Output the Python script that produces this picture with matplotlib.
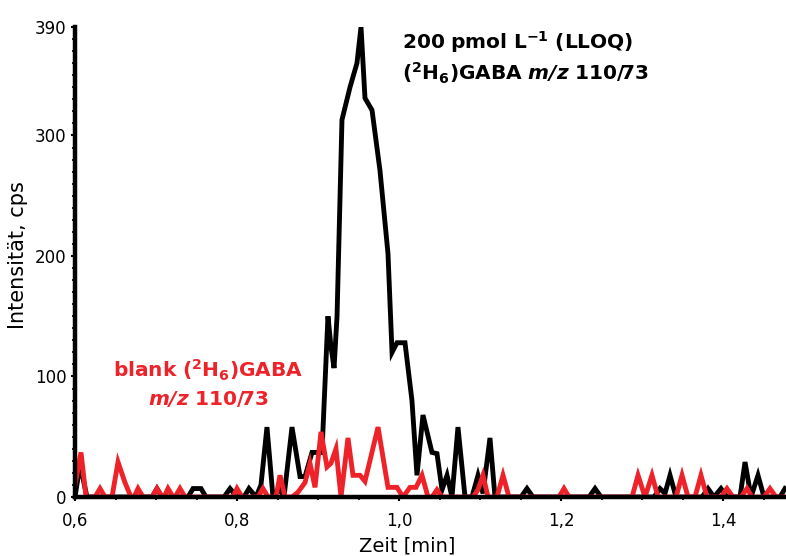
import matplotlib
matplotlib.use("Agg")
import matplotlib.pyplot as plt
from matplotlib.ticker import MultipleLocator, FixedLocator, FuncFormatter

# Chromatogram of (2H6)GABA, m/z 110/73 — retention time [min] vs. intensity [cps]
lloq_time = [0.6000, 0.6062, 0.6148, 0.6951, 0.7012, 0.7074, 0.7395, 0.7457, 0.7556, 0.7617,
             0.7840, 0.7914, 0.8000, 0.8086, 0.8148, 0.8235, 0.8296, 0.8370, 0.8444, 0.8519,
             0.8580, 0.8679, 0.8778, 0.8840, 0.8926, 0.9049, 0.9123, 0.9160, 0.9198, 0.9235,
             0.9296, 0.9395, 0.9481, 0.9531, 0.9580, 0.9667, 0.9765, 0.9864, 0.9914, 0.9975,
             1.0074, 1.0160, 1.0222, 1.0296, 1.0407, 1.0469, 1.0531, 1.0593, 1.0654, 1.0728,
             1.0815, 1.0901, 1.0975, 1.1037, 1.1123, 1.1185, 1.1506, 1.1580, 1.1654, 1.2346,
             1.2420, 1.2494, 1.3148, 1.3222, 1.3284, 1.3346, 1.3420, 1.3741, 1.3815, 1.3889,
             1.3975, 1.4049, 1.4123, 1.4210, 1.4272, 1.4346, 1.4432, 1.4506, 1.4704, 1.4765]
lloq_int = [0, 27, 0, 0, 7, 0, 0, 7, 7, 0,
            0, 7, 0, 0, 7, 0, 10, 58, 0, 7,
            0, 58, 17, 17, 37, 37, 150, 125, 107, 150,
            313, 340, 360, 390, 331, 321, 271, 202, 120, 128,
            128, 80, 18, 68, 37, 36, 6, 18, 0, 58,
            0, 0, 18, 3, 49, 0, 0, 7, 0, 0,
            7, 0, 0, 7, 3, 18, 0, 0, 7, 0,
            7, 0, 0, 0, 29, 0, 18, 0, 0, 7]

blank_time = [0.6000, 0.6074, 0.6136, 0.6247, 0.6309, 0.6370, 0.6457, 0.6531, 0.6617, 0.6691,
              0.6728, 0.6778, 0.6840, 0.6951, 0.7012, 0.7074, 0.7099, 0.7148, 0.7210, 0.7235,
              0.7296, 0.7358, 0.7951, 0.8000, 0.8062, 0.8259, 0.8321, 0.8383, 0.8481, 0.8531,
              0.8593, 0.8679, 0.8753, 0.8840, 0.8901, 0.8963, 0.9037, 0.9111, 0.9160, 0.9222,
              0.9284, 0.9370, 0.9432, 0.9519, 0.9580, 0.9741, 0.9864, 0.9975, 1.0049, 1.0136,
              1.0210, 1.0284, 1.0358, 1.0407, 1.0469, 1.0531, 1.0914, 1.0975, 1.1037, 1.1099,
              1.1210, 1.1284, 1.1358, 1.1975, 1.2037, 1.2099, 1.2877, 1.2951, 1.3037, 1.3123,
              1.3198, 1.3420, 1.3494, 1.3568, 1.3654, 1.3728, 1.3802, 1.3975, 1.4049, 1.4123,
              1.4222, 1.4296, 1.4358, 1.4506, 1.4580, 1.4654, 1.4778]
blank_int = [10, 37, 0, 0, 7, 0, 0, 29, 12, 0,
             0, 7, 0, 0, 7, 0, 0, 7, 0, 0,
             7, 0, 0, 7, 0, 0, 7, 0, 0, 18,
             0, 0, 4, 12, 28, 8, 54, 25, 28, 40,
             0, 49, 18, 18, 13, 58, 8, 8, 0, 8,
             8, 18, 0, 0, 6, 0, 0, 6, 18, 0,
             0, 18, 0, 0, 7, 0, 0, 18, 0, 18,
             0, 0, 18, 0, 0, 18, 0, 0, 7, 0,
             0, 7, 0, 0, 7, 0, 0]

x_major = [0.6, 0.8, 1.0, 1.2, 1.4]
y_major = [0, 100, 200, 300, 390]

RED = "#ee2229"

fig = plt.figure(figsize=(7.86, 5.56), dpi=100)
ax = fig.add_axes([75 / 786, 1 - 497 / 556, 711 / 786, 470 / 556])

ax.plot(lloq_time, lloq_int, color="black", lw=3.5, solid_joinstyle="miter", zorder=2)
ax.plot(blank_time, blank_int, color=RED, lw=3.5, solid_joinstyle="miter", zorder=3)

ax.set_xlim(0.6, 0.6 + 711 / 810)
ax.set_ylim(0, 390)

for side in ("top", "right"):
    ax.spines[side].set_visible(False)
for side in ("left", "bottom"):
    ax.spines[side].set_linewidth(3.2)
    ax.spines[side].set_zorder(4)

ax.xaxis.set_major_locator(FixedLocator(x_major))
ax.xaxis.set_minor_locator(MultipleLocator(0.05))
ax.yaxis.set_major_locator(FixedLocator(y_major))
ax.yaxis.set_minor_locator(MultipleLocator(10))
ax.xaxis.set_major_formatter(FuncFormatter(lambda v, p: f"{v:.1f}".replace(".", ",")))
ax.tick_params(axis="both", which="major", direction="out", length=3, width=1.5,
               labelsize=12, pad=3)
ax.tick_params(axis="x", which="major", pad=8)
ax.tick_params(axis="both", which="minor", direction="out", length=2, width=1.2)

ax.set_xlabel("Zeit [min]", fontsize=14)
ax.set_ylabel("Intensität, cps", fontsize=15)
ax.xaxis.set_label_coords((407 - 75) / 711, -0.083)
ax.yaxis.set_label_coords(-0.066, 0.515)

ax.text(1.0037, 372, r"$\mathbf{200\ pmol\ L^{-1}\ (LLOQ)}$", fontsize=14.5,
        ha="left", va="baseline", color="black")
ax.text(1.0037, 346, r"$\mathbf{(^{2}H_{6})GABA}\ \mathbfit{m/z}\ \mathbf{110/73}$",
        fontsize=14.5, ha="left", va="baseline", color="black")

ax.text(0.765, 99, r"$\mathbf{blank\ (^{2}H_{6})GABA}$", fontsize=14.5,
        ha="center", va="baseline", color=RED)
ax.text(0.765, 76, r"$\mathbfit{m/z}\ \mathbf{110/73}$", fontsize=14.5,
        ha="center", va="baseline", color=RED)

fig.savefig("out.png", dpi=100)
